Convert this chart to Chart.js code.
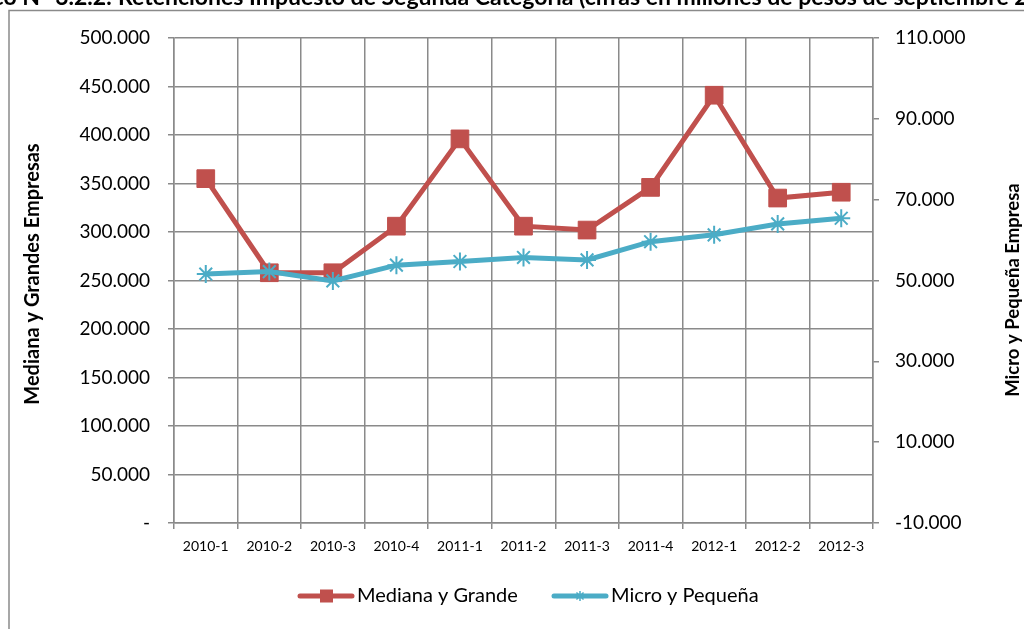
<!DOCTYPE html>
<html>
<head>
<meta charset="utf-8">
<script src="https://cdn.jsdelivr.net/npm/chart.js@4.4.1/dist/chart.umd.min.js"></script>
<style>
  html, body { margin: 0; padding: 0; background: #fff; overflow: hidden; }
  #wrap { position: relative; width: 1024px; height: 629px; }
</style>
</head>
<body>
<div id="wrap"><canvas id="chart" width="1024" height="629"></canvas></div>
<script>
// --- Data (millones de pesos) ---
const periodos = ['2010-1', '2010-2', '2010-3', '2010-4', '2011-1', '2011-2', '2011-3', '2011-4', '2012-1', '2012-2', '2012-3'];
const medianaGrande = [355000, 258000, 258000, 306000, 396000, 306000, 302000, 346000, 441000, 335000, 341000];
const microPequena = [51600, 52200, 49900, 53800, 54700, 55700, 55100, 59600, 61300, 64000, 65400];

const tituloGrafico = 'Gráfico N° 3.2.2:';
const tituloResto = 'Retenciones Impuesto de Segunda Categoría (cifras en millones de pesos de septiembre 2012)';
const tituloIzq = 'Mediana y Grandes Empresas';
const tituloDer = 'Micro y Pequeña Empresa';

const ROJO = '#C0504D';
const AZUL = '#4BACC6';
const GRIS = '#8a8a8a';
const FUENTE = 'Lato, "Open Sans", sans-serif';

// 500000 -> "500.000"
function miles(v) {
    return String(v).replace(/\B(?=(\d{3})+(?!\d))/g, '.');
}

// --- Frame, cut title, axis titles and Excel-like legend ---
const decoraciones = {
    id: 'decoraciones',
    beforeDraw(chart) {
        const ctx = chart.ctx;
        ctx.save();
        ctx.fillStyle = '#fff';
        ctx.fillRect(0, 0, chart.width, chart.height);
        ctx.strokeStyle = GRIS;
        ctx.lineWidth = 1.5;
        ctx.beginPath();
        ctx.moveTo(9, chart.height);
        ctx.lineTo(9, 10.5);
        ctx.lineTo(chart.width, 10.5);
        ctx.stroke();
        ctx.restore();
    },
    afterDraw(chart) {
        const ctx = chart.ctx;
        ctx.save();
        ctx.fillStyle = '#000';

        // title, cut at the top edge
        ctx.font = 'bold 23px ' + FUENTE;
        ctx.textBaseline = 'alphabetic';
        ctx.textAlign = 'right';
        ctx.fillText(tituloGrafico, 112, 5);
        ctx.textAlign = 'left';
        ctx.fillText(tituloResto, 118, 5);

        // axis titles (both read bottom to top)
        ctx.textAlign = 'center';
        ctx.textBaseline = 'middle';
        ctx.font = 'bold 20px ' + FUENTE;
        ctx.save();
        ctx.translate(33, 274);
        ctx.rotate(-Math.PI / 2);
        ctx.fillText(tituloIzq, 0, 0);
        ctx.restore();
        ctx.font = 'bold 18.5px ' + FUENTE;
        ctx.save();
        ctx.translate(1013, 290);
        ctx.rotate(-Math.PI / 2);
        ctx.fillText(tituloDer, 0, 0);
        ctx.restore();

        // legend
        const ly = 596;
        ctx.lineCap = 'round';
        ctx.lineWidth = 5;
        ctx.strokeStyle = ROJO;
        ctx.beginPath(); ctx.moveTo(300, ly); ctx.lineTo(352, ly); ctx.stroke();
        ctx.fillStyle = ROJO;
        ctx.fillRect(320, ly - 6.5, 13, 13);
        ctx.strokeStyle = AZUL;
        ctx.beginPath(); ctx.moveTo(554, ly); ctx.lineTo(606, ly); ctx.stroke();
        ctx.lineWidth = 1.5;
        ctx.lineCap = 'butt';
        ctx.beginPath();
        for (let a = 0; a < 4; a++) {
            const ang = a * Math.PI / 4;
            ctx.moveTo(580 - 5 * Math.cos(ang), ly - 5 * Math.sin(ang));
            ctx.lineTo(580 + 5 * Math.cos(ang), ly + 5 * Math.sin(ang));
        }
        ctx.stroke();
        ctx.fillStyle = '#000';
        ctx.font = '20px ' + FUENTE;
        ctx.textAlign = 'left';
        ctx.fillText('Mediana y Grande', 357, ly);
        ctx.fillText('Micro y Pequeña', 611, ly);
        ctx.restore();
    }
};

new Chart(document.getElementById('chart'), {
    type: 'line',
    data: {
        labels: periodos,
        datasets: [{
            label: 'Mediana y Grande',
            data: medianaGrande,
            yAxisID: 'y',
            borderColor: ROJO,
            backgroundColor: ROJO,
            borderWidth: 5,
            pointStyle: 'rect',
            pointRadius: 12.5,
            pointBorderWidth: 1,
            pointBorderColor: ROJO,
            pointBackgroundColor: ROJO,
            tension: 0,
            order: 1
        }, {
            label: 'Micro y Pequeña',
            data: microPequena,
            yAxisID: 'y1',
            borderColor: AZUL,
            backgroundColor: AZUL,
            borderWidth: 5,
            pointStyle: 'star',
            pointRadius: 9,
            pointBorderWidth: 2,
            pointBorderColor: AZUL,
            pointBackgroundColor: AZUL,
            tension: 0,
            order: 0
        }]
    },
    options: {
        responsive: false,
        animation: false,
        events: [],
        layout: { padding: { top: 38, left: 0, right: 0, bottom: 0 } },
        plugins: {
            legend: { display: false },
            tooltip: { enabled: false },
            title: { display: false }
        },
        scales: {
            x: {
                offset: true,
                grid: { offset: true, color: GRIS, lineWidth: 1.5, tickLength: 6 },
                border: { color: GRIS, width: 1.5 },
                ticks: { color: '#000', font: { family: FUENTE, size: 14 }, padding: 9, maxRotation: 0, autoSkip: false },
                afterFit(scale) { scale.height = 106; }
            },
            y: {
                position: 'left',
                min: 0,
                max: 500000,
                grid: { color: GRIS, lineWidth: 1.5, tickLength: 6 },
                border: { color: GRIS, width: 1.5 },
                ticks: {
                    stepSize: 50000,
                    color: '#000',
                    font: { family: FUENTE, size: 19 },
                    padding: 18,
                    callback: v => v === 0 ? '-' : miles(v)
                },
                afterFit(scale) { scale.width = 174; }
            },
            y1: {
                position: 'right',
                min: -10000,
                max: 110000,
                grid: { drawOnChartArea: false, color: GRIS, lineWidth: 1.5, tickLength: 6 },
                border: { color: GRIS, width: 1.5 },
                ticks: {
                    stepSize: 20000,
                    color: '#000',
                    font: { family: FUENTE, size: 19 },
                    padding: 16,
                    callback: v => miles(v)
                },
                afterFit(scale) { scale.width = 151; }
            }
        }
    },
    plugins: [decoraciones]
});
</script>
</body>
</html>
